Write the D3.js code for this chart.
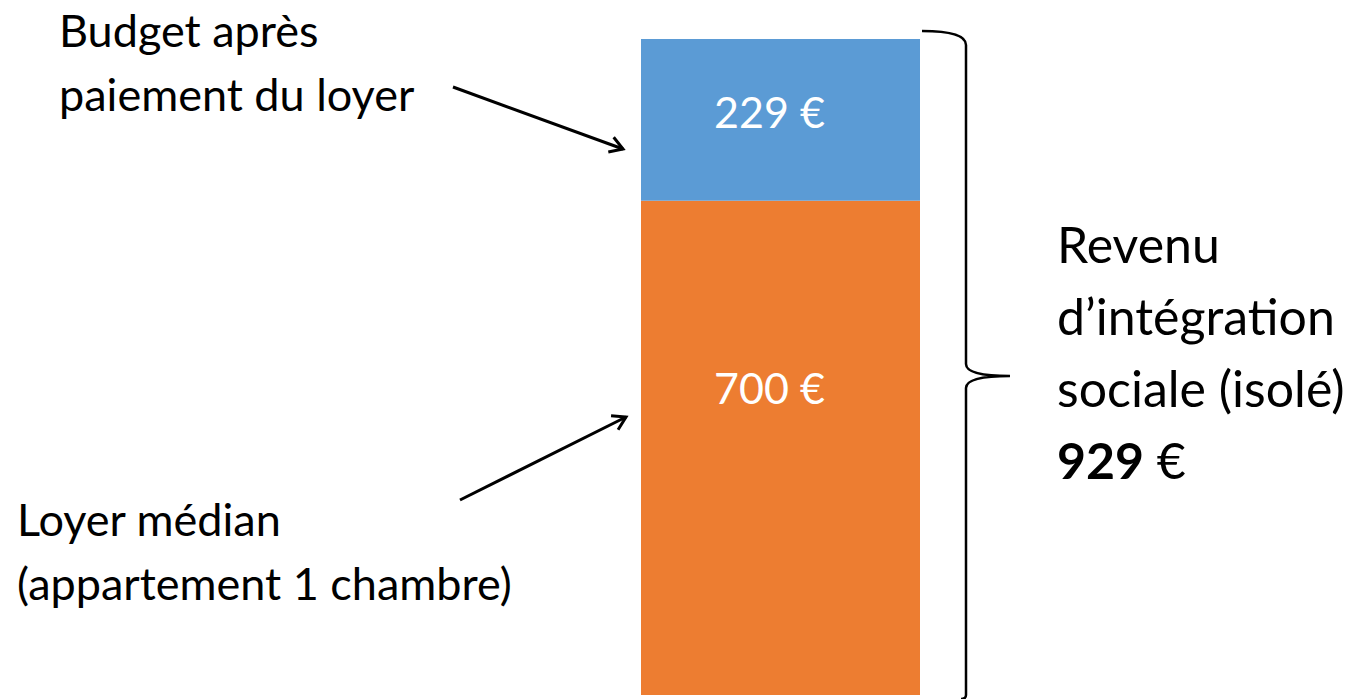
<!DOCTYPE html>
<html>
<head>
<meta charset="utf-8">
<script src="https://d3js.org/d3.v7.min.js"></script>
<style>
  body { margin: 0; background: #fff; }
  text { font-family: Lato, "Open Sans", sans-serif; }
</style>
</head>
<body>
<script>
// data
var segments = ["Loyer médian", "Budget après paiement du loyer"];
var values = [700, 229];
var valueLabels = ["700 €", "229 €"];
var colors = ["#ED7D31", "#5B9BD5"];
var leftNotes = [["Loyer médian", "(appartement 1 chambre)"], ["Budget après", "paiement du loyer"]];
var braceLines = ["Revenu", "d’intégration", "sociale (isolé)"];
var total = 929;

var w = 1352, h = 699;

var svg = d3.select("body").append("svg")
    .attr("width", w)
    .attr("height", h);

var yScale = d3.scaleLinear().domain([0, total]).range([695, 39]);
var xScale = d3.scaleBand().domain(["RIS"]).range([641, 920]).padding(0);

// stacked segments
var stack = [];
var acc = 0;
values.forEach(function(v, i) {
    stack.push({name: segments[i], y0: acc, y1: acc + v, label: valueLabels[i], color: colors[i]});
    acc += v;
});

svg.selectAll("rect.seg").data(stack).enter().append("rect")
    .attr("class", "seg")
    .attr("x", xScale("RIS"))
    .attr("width", xScale.bandwidth())
    .attr("y", function(d){ return yScale(d.y1); })
    .attr("height", function(d){ return yScale(d.y0) - yScale(d.y1); })
    .attr("fill", function(d){ return d.color; });

svg.selectAll("text.val").data(stack).enter().append("text")
    .attr("class", "val")
    .attr("x", xScale("RIS") + xScale.bandwidth() / 2 - 11)
    .attr("y", function(d, i){ return i == 0 ? 404 : 128; })
    .attr("text-anchor", "middle")
    .attr("fill", "#fff")
    .attr("font-size", 43)
    .text(function(d){ return d.label; });

// brace on the right (its bottom is cut by the picture edge)
var bx = xScale("RIS") + xScale.bandwidth();
var bTop = yScale(total) - 8, bBot = h, bMid = 376;
var vx = bx + 46;
var brace = "M" + (bx + 2) + "," + bTop +
    " Q" + vx + "," + bTop + " " + vx + "," + (bTop + 14) +
    " L" + vx + "," + (bMid - 12) +
    " Q" + vx + "," + bMid + " " + (vx + 44) + "," + bMid +
    " Q" + vx + "," + bMid + " " + vx + "," + (bMid + 12) +
    " L" + vx + "," + (bBot - 4) +
    " Q" + vx + "," + bBot + " " + (vx - 5) + "," + bBot;
svg.append("path")
    .attr("d", brace)
    .attr("fill", "none")
    .attr("stroke", "#000")
    .attr("stroke-width", 2.5);

var bt = svg.append("g").attr("font-size", 50).attr("fill", "#000");
braceLines.forEach(function(s, i){
    bt.append("text").attr("x", 1057).attr("y", 263 + i * 72).text(s);
});
var tot = bt.append("text").attr("x", 1057).attr("y", 479);
tot.append("tspan").attr("font-weight", "bold").text(total);
tot.append("tspan").text(" €");

// notes on the left
var nt = svg.append("g").attr("font-size", 45).attr("fill", "#000");
leftNotes[1].forEach(function(s, i){
    nt.append("text").attr("x", 59).attr("y", 47 + i * 64).text(s);
});
leftNotes[0].forEach(function(s, i){
    nt.append("text").attr("x", 17).attr("y", 536 + i * 64).text(s);
});

// arrows
function arrow(x1, y1, x2, y2) {
    var a = Math.atan2(y2 - y1, x2 - x1);
    var L = 15, s = 0.55;
    svg.append("line")
        .attr("x1", x1).attr("y1", y1).attr("x2", x2).attr("y2", y2)
        .attr("stroke", "#000").attr("stroke-width", 3);
    var p = "M" + (x2 - L * Math.cos(a - s)) + "," + (y2 - L * Math.sin(a - s)) +
        " L" + x2 + "," + y2 +
        " L" + (x2 - L * Math.cos(a + s)) + "," + (y2 - L * Math.sin(a + s));
    svg.append("path").attr("d", p).attr("fill", "none")
        .attr("stroke", "#000").attr("stroke-width", 3).attr("stroke-linejoin", "miter");
}
arrow(453, 87, 623, 149);
arrow(460, 500, 626, 417);
</script>
</body>
</html>
